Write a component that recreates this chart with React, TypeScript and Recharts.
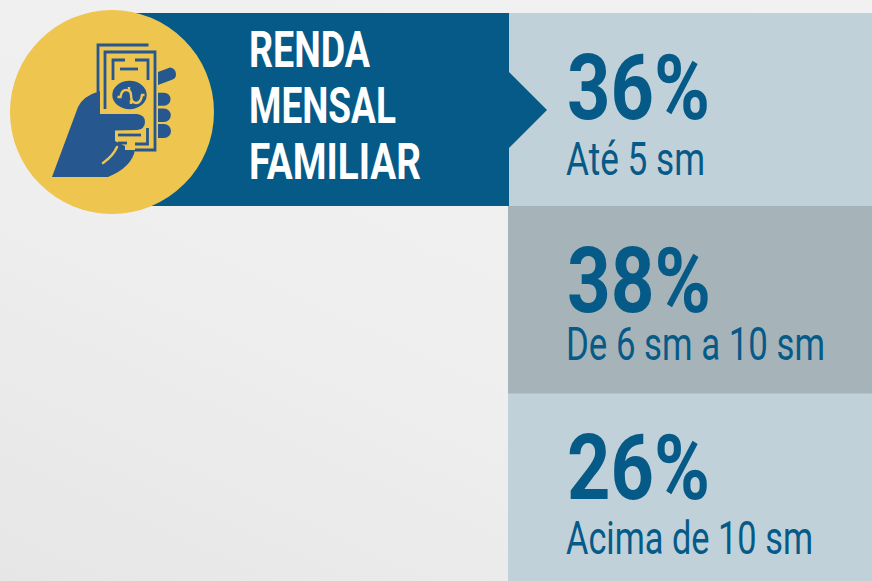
import React from "react";
import { BarChart, Bar, XAxis, YAxis, Cell, LabelList, Customized } from "recharts";

const categories = ["Até 5 sm", "De 6 sm a 10 sm", "Acima de 10 sm"];
const shares = [36, 38, 26];
const titleLines = ["RENDA", "MENSAL", "FAMILIAR"];
const rowFills = ["#C1D1D9", "#A6B4B9", "#C1D1D9"];

const NAVY = "#065A87";
const ICON = "#27578F";
const YELLOW = "#EDC54F";
const FONT = "Roboto, sans-serif";

const rows = categories.map((name, i) => ({ name, share: shares[i], span: 1 }));

const TOP_EXTENSION = 5.5;
const titleWidths = [121, 147, 172];
const shareWidths = [143, 144, 143];
const nameWidths = [139, 259, 247];
const shareShift = [-4.7, 0, 0];
const nameShift = [2.3, 0, 6.7];

const RowShape = (p: any) => (
  <g>
    <rect
      x={p.x}
      y={p.index === 0 ? p.y - TOP_EXTENSION : p.y}
      width={p.width}
      height={p.index === 0 ? p.height + TOP_EXTENSION : p.height}
      fill={p.fill}
    />
    {p.index === 0 ? (
      <g>
        <rect x={p.x} y={p.y - TOP_EXTENSION} width={1} height={p.height + TOP_EXTENSION} fill={NAVY} />
        <polygon points="509,72 547,110 509,148" fill={NAVY} />
      </g>
    ) : null}
  </g>
);

const ShareLabel = (p: any) => (
  <text
    x={p.x + 59}
    y={p.y + p.height / 2 + 11.5 + shareShift[p.index]}
    fontFamily={FONT}
    fontWeight={700}
    fontSize={91}
    fill={NAVY}
    textLength={shareWidths[p.index]}
    lengthAdjust="spacingAndGlyphs"
  >
    {p.value}%
  </text>
);

const NameLabel = (p: any) => (
  <text
    x={p.x + 58}
    y={p.y + p.height / 2 + 60 + nameShift[p.index]}
    fontFamily={FONT}
    fontSize={46}
    fill={NAVY}
    textLength={nameWidths[p.index]}
    lengthAdjust="spacingAndGlyphs"
  >
    {p.value}
  </text>
);

const Header = () => (
  <g>
    <rect x={112} y={13} width={397} height={193} fill={NAVY} />
    <circle cx={112} cy={112} r={102} fill={YELLOW} />
    {titleLines.map((t, i) => (
      <text
        key={t}
        x={249}
        y={67 + i * 56}
        fontFamily={FONT}
        fontWeight={700}
        fontSize={50}
        fill="#FFFFFF"
        textLength={titleWidths[i]}
        lengthAdjust="spacingAndGlyphs"
      >
        {t}
      </text>
    ))}
    {/* banknote */}
    <g stroke={ICON} strokeWidth={2.8} fill="none">
      <path d="M98,92 V45 H148.5" />
      <path d="M105,109 V52 H155 V150 H135" />
      <path d="M113,80 V60 H125" />
      <path d="M135,60 H148 V80" />
      <path d="M120,69 H138" />
      <path d="M118,135 H141" />
      <path d="M147.5,128 V144 H135" />
      <path d="M118,143 H127" />
    </g>
    {/* hand */}
    <path
      d="M52,177 L78,107 Q83,96 100,91 L100,114 L137,114 Q145,115 145,122 Q145,129 137,130 L115,130.5 L115,141 L125,146 L125,150 L135,150 Q132,167 108,177 Z"
      fill={ICON}
    />
    <path d="M117,147 Q113,156 103,163" stroke={YELLOW} strokeWidth={2.5} strokeLinecap="round" fill="none" />
    {/* fingers */}
    <path d="M158,72 L170,67.5 Q176,68 176,75 Q176,79 170,80.5 L158,85 Z" fill={ICON} />
    <path d="M158,92.7 h6 a6.5,6.5 0 0 1 0,13 h-6 Z" fill={ICON} />
    <path d="M158,108.5 h6 a6.8,6.8 0 0 1 0,13.6 h-6 Z" fill={ICON} />
    <path d="M158,124 h6 a7,7 0 0 1 0,14 h-6 Z" fill={ICON} />
    <ellipse cx={129.5} cy={95} rx={17.2} ry={14.2} fill={ICON} />
    <path
      d="M117.5,97 H120.5 Q121.5,90 126,90 Q131,90 131,95 Q131,103 136,103 Q141,103 142,95 H144.5 M129,87 V91 M131,100 V104"
      stroke={YELLOW}
      strokeWidth={2.4}
      fill="none"
    />
  </g>
);

export default function App() {
  return (
    <div
      style={{
        position: "absolute",
        left: 0,
        top: 0,
        width: 872,
        height: 581,
        background: "linear-gradient(25deg, #E6E6E6 0%, #EFEFEF 45%, #F1F1F1 100%)",
      }}
    >
      <BarChart
        width={872}
        height={581}
        data={rows}
        layout="vertical"
        barCategoryGap={0}
        margin={{ top: 18.5, right: 0, bottom: 0, left: 508 }}
      >
        <XAxis type="number" domain={[0, 1]} hide />
        <YAxis type="category" dataKey="name" hide />
        <Bar dataKey="span" isAnimationActive={false} shape={RowShape}>
          {rows.map((r, i) => (
            <Cell key={r.name} fill={rowFills[i]} />
          ))}
          <LabelList dataKey="share" content={ShareLabel} />
          <LabelList dataKey="name" content={NameLabel} />
        </Bar>
        <Customized component={Header} />
      </BarChart>
    </div>
  );
}
